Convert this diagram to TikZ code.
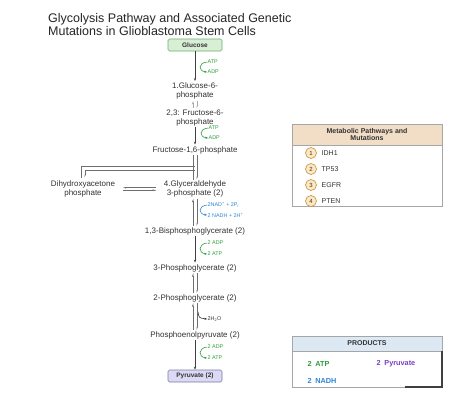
\documentclass[tikz,border=0pt]{standalone}
\usepackage{fontspec}
\setmainfont{Liberation Sans}
\usetikzlibrary{arrows.meta,calc}
\definecolor{txt}{HTML}{333333}
\definecolor{grn}{HTML}{2E9E3E}
\definecolor{blu}{HTML}{2F86D6}
\definecolor{pur}{HTML}{7A3FC0}
\definecolor{eqg}{HTML}{6E6E6E}
\definecolor{glufill}{HTML}{D8EFD6}
\definecolor{gluline}{HTML}{6AAE6A}
\definecolor{pyrfill}{HTML}{DCD9F5}
\definecolor{pyrline}{HTML}{7D78A8}
\definecolor{tanfill}{HTML}{F2DEC6}
\definecolor{numfill}{HTML}{FDE8C4}
\definecolor{numline}{HTML}{C99A4E}
\definecolor{bluefill}{HTML}{DCE8F4}
\tikzset{
  metab/.style={font=\fontsize{8}{9}\selectfont, text=txt, align=center, inner sep=1.5pt},
  cof/.style={font=\fontsize{5.4}{5.4}\selectfont, anchor=west, inner sep=0.5pt},
  fwd/.style={draw=black!75, line width=0.5pt, -{Stealth[length=3pt,width=2.2pt]}},
  eqc/.style={draw=eqg, line width=0.9pt},
  equp/.style={eqc, -{Stealth[left,length=3pt,width=2.4pt]}},
  eqdn/.style={eqc, -{Stealth[left,length=3pt,width=2.4pt]}},
  cofarr/.style={line width=0.6pt, -{Stealth[length=2.5pt,width=2.2pt]}},
  pbox/.style={rounded corners=1.5pt, line width=0.6pt, minimum width=54pt, minimum height=12pt, inner sep=0pt, font=\fontsize{6.5}{6.5}\selectfont\bfseries, text=txt},
  num/.style={circle, draw=numline, fill=numfill, line width=0.7pt, minimum size=11pt, inner sep=0pt, font=\fontsize{6}{6}\selectfont, text=txt},
  item/.style={anchor=west, font=\fontsize{7}{7}\selectfont, text=txt, inner sep=0.5pt},
  prod/.style={anchor=west, font=\fontsize{7.3}{7.3}\selectfont\bfseries, inner sep=0.5pt}
}
\begin{document}
\begin{tikzpicture}[x=1pt,y=-1pt]
\useasboundingbox[fill=white] (0,0) rectangle (463,402);

% title
\node[anchor=west, align=left, font=\fontsize{12.5}{13}\selectfont, text=black!85, inner sep=0pt] (title) at (48,25)
  {Glycolysis Pathway and Associated Genetic\\Mutations in Glioblastoma Stem Cells};

% metabolites
\node[pbox, draw=gluline, fill=glufill] (glu) at (195,45) {Glucose};
\node[metab] (g6p) at (195,91) {1.Glucose-6-\\phosphate};
\node[metab] (f6p) at (195,118) {2,3: Fructose-6-\\phosphate};
\node[metab] (f16) at (195,150) {Fructose-1,6-phosphate};
\node[metab] (dhap) at (83,189) {Dihydroxyacetone\\phosphate};
\node[metab] (g3p) at (195,189) {4.Glyceraldehyde\\3-phosphate (2)};
\node[metab] (bpg) at (195,231) {1,3-Bisphosphoglycerate (2)};
\node[metab] (pg3) at (195,268) {3-Phosphoglycerate (2)};
\node[metab] (pg2) at (195,298) {2-Phosphoglycerate (2)};
\node[metab] (pep) at (195,335) {Phosphoenolpyruvate (2)};
\node[pbox, draw=pyrline, fill=pyrfill] (pyr) at (195,376) {Pyruvate (2)};

% cofactor labels
\node[cof, text=grn] (atp1) at (207,62) {ATP};
\node[cof, text=grn] (adp1) at (207,72) {ADP};
\node[cof, text=grn] (atp2) at (208,128) {ATP};
\node[cof, text=grn] (adp2) at (208,138) {ADP};
\node[cof, text=blu] (nad) at (207,205) {2NAD\textsuperscript{+} + 2P\textsubscript{i}};
\node[cof, text=blu] (nadh) at (207,215) {2 NADH + 2H\textsuperscript{+}};
\node[cof, text=grn] (adp3) at (207,243) {2 ADP};
\node[cof, text=grn] (atp3) at (207,254) {2 ATP};
\node[cof, text=txt] (h2o) at (207,319) {2H\textsubscript{2}O};
\node[cof, text=grn] (adp4) at (207,347) {2 ADP};
\node[cof, text=grn] (atp4) at (207,358) {2 ATP};

% irreversible steps
\draw[fwd] (glu.south) -- (g6p.north);
\draw[fwd] ([yshift=1pt]f6p.south) -- (f16.north);
\draw[fwd] (bpg.south) -- (pg3.north);
\draw[fwd] (pep.south) -- (pyr.north);

% cofactor curves
\draw[cofarr, grn] (atp1.west) .. controls +(-9,1) and +(-9,-1) .. (adp1.west);
\draw[cofarr, grn] (atp2.west) .. controls +(-9,1) and +(-9,-1) .. (adp2.west);
\draw[cofarr, blu] (nad.west) .. controls +(-9,1) and +(-9,-1) .. (nadh.west);
\draw[cofarr, grn] (adp3.west) .. controls +(-9,1) and +(-9,-1) .. (atp3.west);
\draw[cofarr, grn] (adp4.west) .. controls +(-9,1) and +(-9,-1) .. (atp4.west);
\coordinate (h2oS) at (198,312);
\draw[cofarr, black!80] (h2oS) .. controls (199,318) .. (h2o.west);

% reversible steps
\draw[equp, draw=eqg!60] ([xshift=-2pt]f6p.north) -- ([xshift=-2pt]g6p.south);
\draw[eqdn, draw=eqg!60] ([xshift=2pt]g6p.south) -- ([xshift=2pt]f6p.north);

\draw[eqc] ([xshift=-2pt]f16.south) -- ([xshift=-2pt,yshift=-1pt]g3p.north);
\draw[eqdn] ([xshift=2pt]f16.south) -- ([xshift=2pt]g3p.north);
\coordinate (brA) at (195,166);
\coordinate (brB) at (195,170);
\draw[eqc] (brA) -| ($(dhap.north)+(-2,-1)$);
\draw[eqc, -{Stealth[left,length=3pt,width=2.4pt]}] (brB) -| ($(dhap.north)+(2,-2)$);

\draw[eqc, -{Stealth[left,length=3pt,width=2.4pt]}] ($(g3p.west)+(-6,-1.5)$) -- ($(dhap.east)+(6,-1.5)$);
\draw[eqc, -{Stealth[left,length=3pt,width=2.4pt]}] ($(dhap.east)+(6,1.5)$) -- ($(g3p.west)+(-6,1.5)$);

\draw[equp] ([xshift=-2pt]bpg.north) -- ([xshift=-2pt]g3p.south);
\draw[eqdn] ([xshift=2pt]g3p.south) -- ([xshift=2pt]bpg.north);
\draw[equp] ([xshift=-2pt]pg2.north) -- ([xshift=-2pt]pg3.south);
\draw[eqdn] ([xshift=2pt]pg3.south) -- ([xshift=2pt]pg2.north);
\draw[equp] ([xshift=-2pt]pep.north) -- ([xshift=-2pt]pg2.south);
\draw[eqdn] ([xshift=2pt]pg2.south) -- ([xshift=2pt]pep.north);

% Metabolic pathways box
\draw[draw=black!35, line width=0.6pt] (292,124) rectangle (442,206);
\node[draw=black!35, fill=tanfill, line width=0.6pt, minimum width=150pt, minimum height=21pt, inner sep=0pt, align=center,
  font=\fontsize{7}{7.8}\selectfont\bfseries, text=txt] (mhdr) at (367,134.5) {Metabolic Pathways and\\Mutations};
\node[num] (n1) at (311,153) {1};
\node[item] (i1) at (321,153) {IDH1};
\node[num] (n2) at (311,169) {2};
\node[item] (i2) at (321,169) {TP53};
\node[num] (n3) at (311,185) {3};
\node[item] (i3) at (321,185) {EGFR};
\node[num] (n4) at (311,201) {4};
\node[item] (i4) at (321,201) {PTEN};

% Products box
\draw[draw=black!35, line width=0.6pt] (292,336) rectangle (442,387);
\node[draw=black!35, fill=bluefill, line width=0.6pt, minimum width=150pt, minimum height=15pt, inner sep=0pt,
  font=\fontsize{7}{7}\selectfont\bfseries, text=txt] (phdr) at (367,343.5) {PRODUCTS};
\draw[black!75, line width=1.3pt] (442,351) -- (442,387) -- (405,387);
\node[prod, text=grn] (p1) at (307,364) {2\enspace ATP};
\node[prod, text=pur] (p2) at (376,364) {2\enspace Pyruvate};
\node[prod, text=blu] (p3) at (307,381) {2\enspace NADH};
\end{tikzpicture}
\end{document}
